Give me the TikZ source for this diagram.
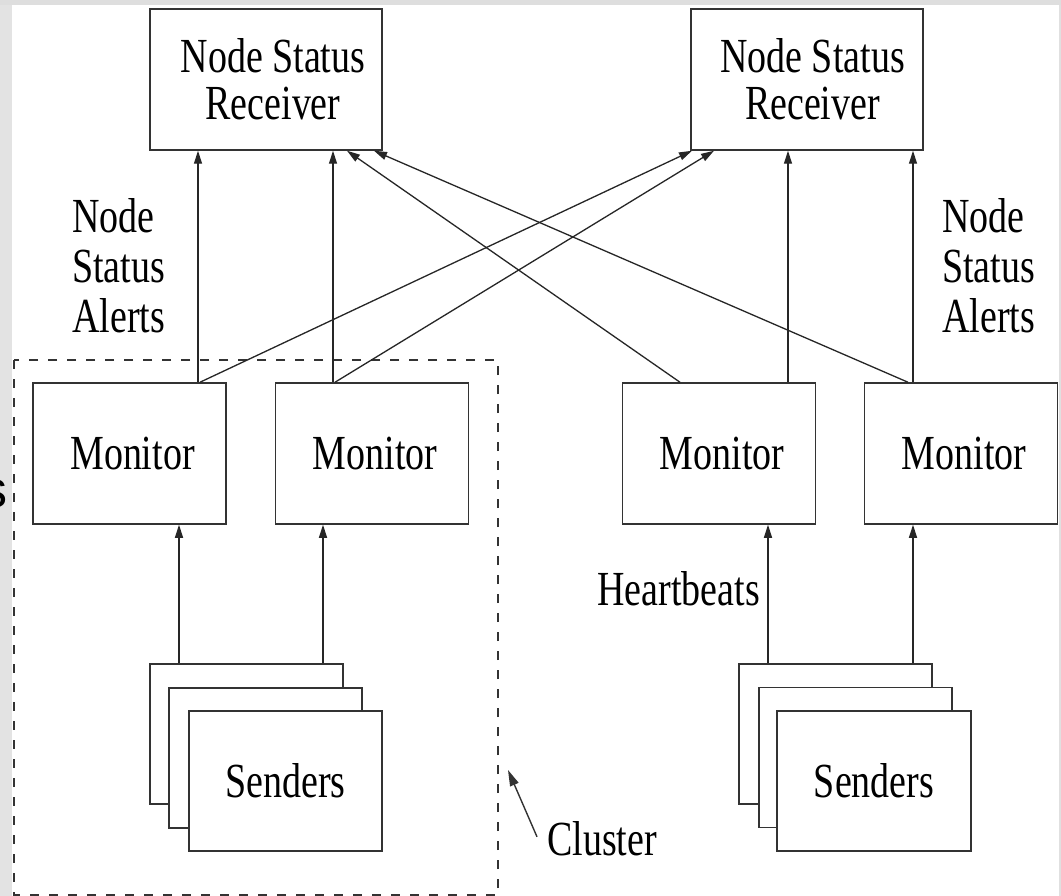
\documentclass[tikz,border=0pt]{standalone}
\usepackage{fontspec}
\setmainfont{Liberation Serif}
\newfontfamily\nar{Liberation Serif}[FakeStretch=0.775]
\newfontfamily\sfs{Liberation Sans}
\usetikzlibrary{arrows.meta,calc}
\begin{document}
\begin{tikzpicture}[x=1pt,y=-1pt,
  lbl/.style={font=\nar\fontsize{49}{50}\selectfont, text=black, inner sep=0pt},
  box/.style={draw=black!80, line width=1.5pt, fill=white, inner sep=0pt,
    font=\nar\fontsize{49}{47}\selectfont, align=center},
  rbox/.style={box, minimum width=232pt, minimum height=141pt},
  mbox/.style={box, minimum width=193pt, minimum height=141pt},
  sbox/.style={box, minimum width=193pt, minimum height=140pt},
  arr/.style={draw=black!85, line width=1.3pt, -{Triangle[length=13pt,width=8pt]}},
  carr/.style={draw=black!80, line width=1.4pt, -{Triangle[length=16pt,width=9pt]}},
  cluster/.style={draw=black!80, line width=1.4pt, dash pattern=on 9pt off 10pt}
]
\useasboundingbox (0,0) rectangle (1061,896);
\fill[white] (0,0) rectangle (1061,896);
\fill[black!13] (0,0) rectangle (1061,5);
\fill[black!11] (0,5) rectangle (12,896);
\fill[black!12] (1059,5) rectangle (1061,896);

% partial slide text at the left edge
\node[font=\sfs\fontsize{52}{52}\selectfont, anchor=base east, inner sep=0pt] (S) at (8,507) {s};

% cluster outline
\draw[cluster] (14,360) rectangle (498,895);

% receivers
\node[rbox] (R1) at (266,79.5) {\hspace*{14pt}Node Status\\\hspace*{14pt}Receiver};
\node[rbox] (R2) at (807,79.5) {\hspace*{11pt}Node Status\\\hspace*{11pt}Receiver};

% monitors
\node[mbox] (M1) at (129.5,453.5) {\hspace*{6pt}Monitor};
\node[mbox] (M2) at (372,453.5) {\hspace*{6pt}Monitor};
\node[mbox] (M3) at (719,453.5) {\hspace*{6pt}Monitor};
\node[mbox] (M4) at (961,453.5) {\hspace*{6pt}Monitor};

% senders (stacks)
\node[sbox] (SL1) at (246.5,734) {};
\node[sbox] (SL2) at (265.5,758) {};
\node[sbox] (SL3) at (285.5,781) {Senders};
\node[sbox] (SR1) at (835.5,734) {};
\node[sbox] (SR2) at (855.5,757.5) {};
\node[sbox, minimum width=194pt] (SR3) at (874,781) {Senders};

% monitor -> receiver, vertical
\draw[arr] ([xshift=68.5pt]M1.north) -- ([xshift=68.5pt]M1.north |- R1.south);
\draw[arr] ([xshift=-39pt]M2.north) -- ([xshift=-39pt]M2.north |- R1.south);
\draw[arr] ([xshift=69pt]M3.north) -- ([xshift=69pt]M3.north |- R2.south);
\draw[arr] ([xshift=-48pt]M4.north) -- ([xshift=-48pt]M4.north |- R2.south);

% monitor -> receiver, crossing
\draw[arr] ([xshift=70.5pt]M1.north) -- ([xshift=-115pt]R2.south);
\draw[arr] ([xshift=-37pt]M2.north) -- ([xshift=-93pt]R2.south);
\draw[arr] ([xshift=-39pt]M3.north) -- ([xshift=81pt]R1.south);
\draw[arr] ([xshift=-53pt]M4.north) -- ([xshift=108pt]R1.south);

% senders -> monitors
\draw[arr] ([xshift=-67.5pt]SL1.north) -- ([xshift=-67.5pt]SL1.north |- M1.south);
\draw[arr] ([xshift=76.5pt]SL1.north) -- ([xshift=76.5pt]SL1.north |- M2.south);
\draw[arr] ([xshift=-67.5pt]SR1.north) -- ([xshift=-67.5pt]SR1.north |- M3.south);
\draw[arr] ([xshift=77.5pt]SR1.north) -- ([xshift=77.5pt]SR1.north |- M4.south);

% labels
\node[lbl, align=left, anchor=north west] (LA) at (72,198) {Node\\Status\\Alerts};
\node[lbl, align=left, anchor=north west] (RA) at (942,198) {Node\\Status\\Alerts};
\node[lbl, anchor=base east] (HB) at (760,605) {Heartbeats};
\node[lbl, anchor=base west] (CL) at (547,855) {Cluster};
\coordinate (CT) at (508,770);
\draw[carr] ([xshift=-10pt,yshift=-16pt]CL.north west) -- (CT);
\end{tikzpicture}
\end{document}
